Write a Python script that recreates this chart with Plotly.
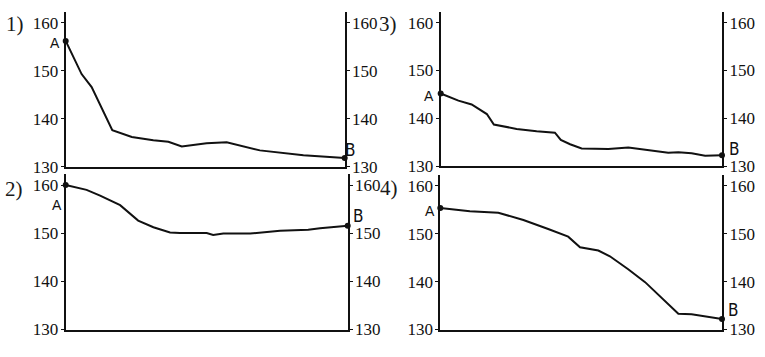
import plotly.graph_objects as go

# ---- data (x: fraction of route length in %, y: altitude) ----
x1 = [0, 5.7, 9.3, 16.7, 23.7, 31.4, 36.8, 41.6, 50.5, 57.7, 69.6, 85.2, 100]
y1 = [156.2, 149.3, 146.6, 137.6, 136.2, 135.5, 135.2, 134.2, 134.9, 135.1, 133.4, 132.4, 131.8]

x2 = [0, 7.4, 12.2, 19.3, 25.7, 31.1, 37.0, 40.5, 50.0, 52.3, 55.9, 65.4, 76.0, 86.0, 90.2, 100]
y2 = [160.1, 159.1, 157.9, 155.9, 152.7, 151.3, 150.2, 150.1, 150.1, 149.7, 150.0, 150.0, 150.6, 150.8, 151.1, 151.6]

x3 = [0, 6.3, 11.0, 16.4, 18.9, 27.0, 34.1, 40.6, 42.7, 46.0, 50.1, 59.6, 66.7, 72.6, 80.9, 84.5, 89.2, 94.0, 100]
y3 = [145.2, 143.7, 142.9, 140.9, 138.7, 137.8, 137.3, 137.0, 135.5, 134.6, 133.7, 133.6, 133.9, 133.4, 132.8, 132.9, 132.7, 132.2, 132.3]

x4 = [0, 10.5, 20.6, 29.5, 38.3, 45.4, 49.6, 56.1, 60.2, 66.7, 72.7, 84.5, 89.2, 100]
y4 = [155.4, 154.7, 154.4, 152.9, 151.0, 149.4, 147.2, 146.5, 145.3, 142.6, 139.9, 133.3, 133.2, 132.2]

tick_vals = [130, 140, 150, 160]
tick_text = ["130", "140", "150", "160"]
panel_labels = ["1)", "2)", "3)", "4)"]
series = [(x1, y1), (x2, y2), (x3, y3), (x4, y4)]

# ---- layout geometry (pixels) ----
W, H = 765, 357
boxes = [  # x0, x1, ytop, ybot
    (65.7, 344.7, 12, 171.5),
    (65.7, 347.7, 179.5, 339),
    (440.7, 722.0, 12, 171),
    (440.3, 722.0, 180, 339),
]
label_pos = [(15, 25), (14, 194), (388, 25), (389, 193)]
a_shift = [(-10.7, -2), (-9, -20), (-11.7, -3), (-10, -3)]
b_shift = [(5.3, 8), (10.3, 9.5), (12, 6), (11.2, 9)]

YR = [130, 162.3]
serif = "Liberation Serif"
sans = "Liberation Sans"
narrow = "DejaVu Sans Condensed, Liberation Sans Narrow, DejaVu Sans"
INK = "#111111"

fig = go.Figure()
layout = dict(
    width=W, height=H, margin=dict(l=0, r=0, t=0, b=0),
    paper_bgcolor="white", plot_bgcolor="white", showlegend=False,
)
annotations = []

for i, ((xs, ys), (x0, x1p, yt, yb)) in enumerate(zip(series, boxes)):
    n = i + 1
    xa = "x" if n == 1 else f"x{n}"
    ya = "y" if n == 1 else f"y{n}"
    yr = f"y{n + 4}"
    layout[f"xaxis{'' if n == 1 else n}"] = dict(
        domain=[x0 / W, x1p / W], range=[0, 100], anchor=ya,
        showline=True, linecolor=INK, linewidth=2, showticklabels=False,
        ticks="", showgrid=False, zeroline=False,
    )
    for side, key, extra in (("left", f"yaxis{'' if n == 1 else n}", {}),
                             ("right", f"yaxis{n + 4}", {"overlaying": ya})):
        ax = dict(
            domain=[1 - yb / H, 1 - yt / H], range=YR, anchor=xa, side=side,
            showline=True, linecolor=INK, linewidth=2,
            tickmode="array", tickvals=tick_vals, ticktext=tick_text,
            ticks="outside", ticklen=3, tickcolor=INK, tickwidth=1,
            tickfont=dict(family=serif, size=17, color=INK),
            ticklabelstandoff=-1,
            showgrid=False, zeroline=False,
        )
        ax.update(extra)
        layout[key] = ax

    fig.add_trace(go.Scatter(
        x=xs, y=ys, xaxis=xa, yaxis=ya, mode="lines",
        line=dict(color=INK, width=2), cliponaxis=False, hoverinfo="skip",
    ))
    fig.add_trace(go.Scatter(
        x=[xs[0], xs[-1]], y=[ys[0], ys[-1]], xaxis=xa, yaxis=yr, mode="markers",
        marker=dict(color=INK, size=6), cliponaxis=False, hoverinfo="skip",
    ))
    annotations.append(dict(
        x=xs[0], y=ys[0], xref=xa, yref=ya, text="A", showarrow=False,
        xshift=a_shift[i][0], yshift=a_shift[i][1],
        xanchor="center", yanchor="middle",
        font=dict(family=sans, size=14, color=INK),
    ))
    annotations.append(dict(
        x=xs[-1], y=ys[-1], xref=xa, yref=ya, text="B", showarrow=False,
        xshift=b_shift[i][0], yshift=b_shift[i][1],
        xanchor="center", yanchor="middle",
        font=dict(family=narrow, size=17, color=INK),
    ))
    lx, ly = label_pos[i]
    annotations.append(dict(
        x=lx / W, y=1 - ly / H, xref="paper", yref="paper", text=panel_labels[i],
        showarrow=False, xanchor="center", yanchor="middle",
        font=dict(family=serif, size=21, color="#1a1a1a"),
    ))

layout["annotations"] = annotations
fig.update_layout(**layout)
fig.write_html("out.html")
